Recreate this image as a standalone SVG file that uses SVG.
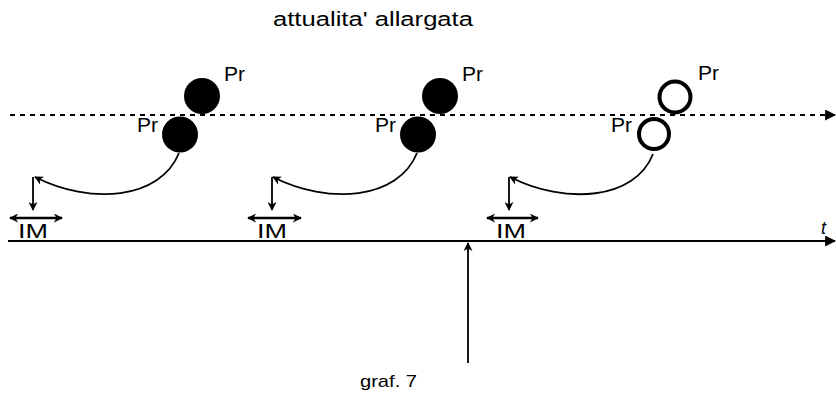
<svg xmlns="http://www.w3.org/2000/svg" width="836" height="393" viewBox="0 0 836 393">
<defs>
<marker id="ah" viewBox="0 0 10 10" refX="9" refY="5" markerWidth="9" markerHeight="9" orient="auto-start-reverse" markerUnits="userSpaceOnUse">
<path d="M0,0 L10,5 L0,10 L3,5 z" fill="#000"/>
</marker>
<marker id="ahb" viewBox="0 0 10 10" refX="9" refY="5" markerWidth="11" markerHeight="11" orient="auto" markerUnits="userSpaceOnUse">
<path d="M0,0 L10,5 L0,10 z" fill="#000"/>
</marker>
<style>
.t{font-family:"Liberation Sans",Arial,sans-serif;fill:#000}
.pr{font-size:21px}
.im{font-size:20px}
.ln{stroke:#000;fill:none;stroke-width:1.8}
.dbl{stroke:#000;fill:none;stroke-width:2.4}
.full{fill:#000}
.open{fill:#fff;stroke:#000;stroke-width:4}
</style>
</defs>
<text class="t" x="273" y="26" font-size="20" textLength="200" lengthAdjust="spacingAndGlyphs">attualita' allargata</text>
<g id="connectors">
<line x1="10" y1="115" x2="835" y2="115" stroke="#000" stroke-width="2" stroke-dasharray="5,5" marker-end="url(#ahb)"/>
<line x1="8" y1="241" x2="835" y2="241" stroke="#000" stroke-width="2" marker-end="url(#ahb)"/>
<line x1="468" y1="363" x2="468" y2="243" class="ln" marker-end="url(#ah)"/>
<path d="M179,153 C160,200 90,205 35,177" class="ln" marker-end="url(#ah)"/>
<line x1="33" y1="177" x2="33" y2="210" class="ln" marker-end="url(#ah)"/>
<line x1="10" y1="218" x2="62" y2="218" class="dbl" marker-start="url(#ah)" marker-end="url(#ah)"/>
<path d="M417,153 C398,200 328,205 273,177" class="ln" marker-end="url(#ah)"/>
<line x1="272" y1="177" x2="272" y2="210" class="ln" marker-end="url(#ah)"/>
<line x1="248" y1="218" x2="301" y2="218" class="dbl" marker-start="url(#ah)" marker-end="url(#ah)"/>
<path d="M653,154 C635,200 565,205 510,177" class="ln" marker-end="url(#ah)"/>
<line x1="509" y1="177" x2="509" y2="210" class="ln" marker-end="url(#ah)"/>
<line x1="487" y1="218" x2="538" y2="218" class="dbl" marker-start="url(#ah)" marker-end="url(#ah)"/>
</g>
<g id="group1">
<circle cx="202" cy="96" r="18" class="full"/>
<circle cx="180" cy="134.5" r="18" class="full"/>
<text class="t pr" x="224" y="81">Pr</text>
<text class="t pr" x="137" y="132">Pr</text>
<text class="t im" x="18" y="238" textLength="30" lengthAdjust="spacingAndGlyphs">IM</text>
</g>
<g id="group2">
<circle cx="440" cy="96" r="18" class="full"/>
<circle cx="418" cy="134.5" r="18" class="full"/>
<text class="t pr" x="462" y="81">Pr</text>
<text class="t pr" x="375" y="132">Pr</text>
<text class="t im" x="257" y="238" textLength="30" lengthAdjust="spacingAndGlyphs">IM</text>
</g>
<g id="group3">
<circle cx="675" cy="97" r="15.5" class="open"/>
<circle cx="654" cy="134" r="15" class="open"/>
<text class="t pr" x="698" y="80">Pr</text>
<text class="t pr" x="611" y="132">Pr</text>
<text class="t im" x="496" y="238" textLength="30" lengthAdjust="spacingAndGlyphs">IM</text>
</g>
<text class="t" x="821" y="234" font-size="18" font-style="italic">t</text>
<text class="t" x="360" y="387" font-size="17" textLength="57" lengthAdjust="spacingAndGlyphs">graf. 7</text>
</svg>
